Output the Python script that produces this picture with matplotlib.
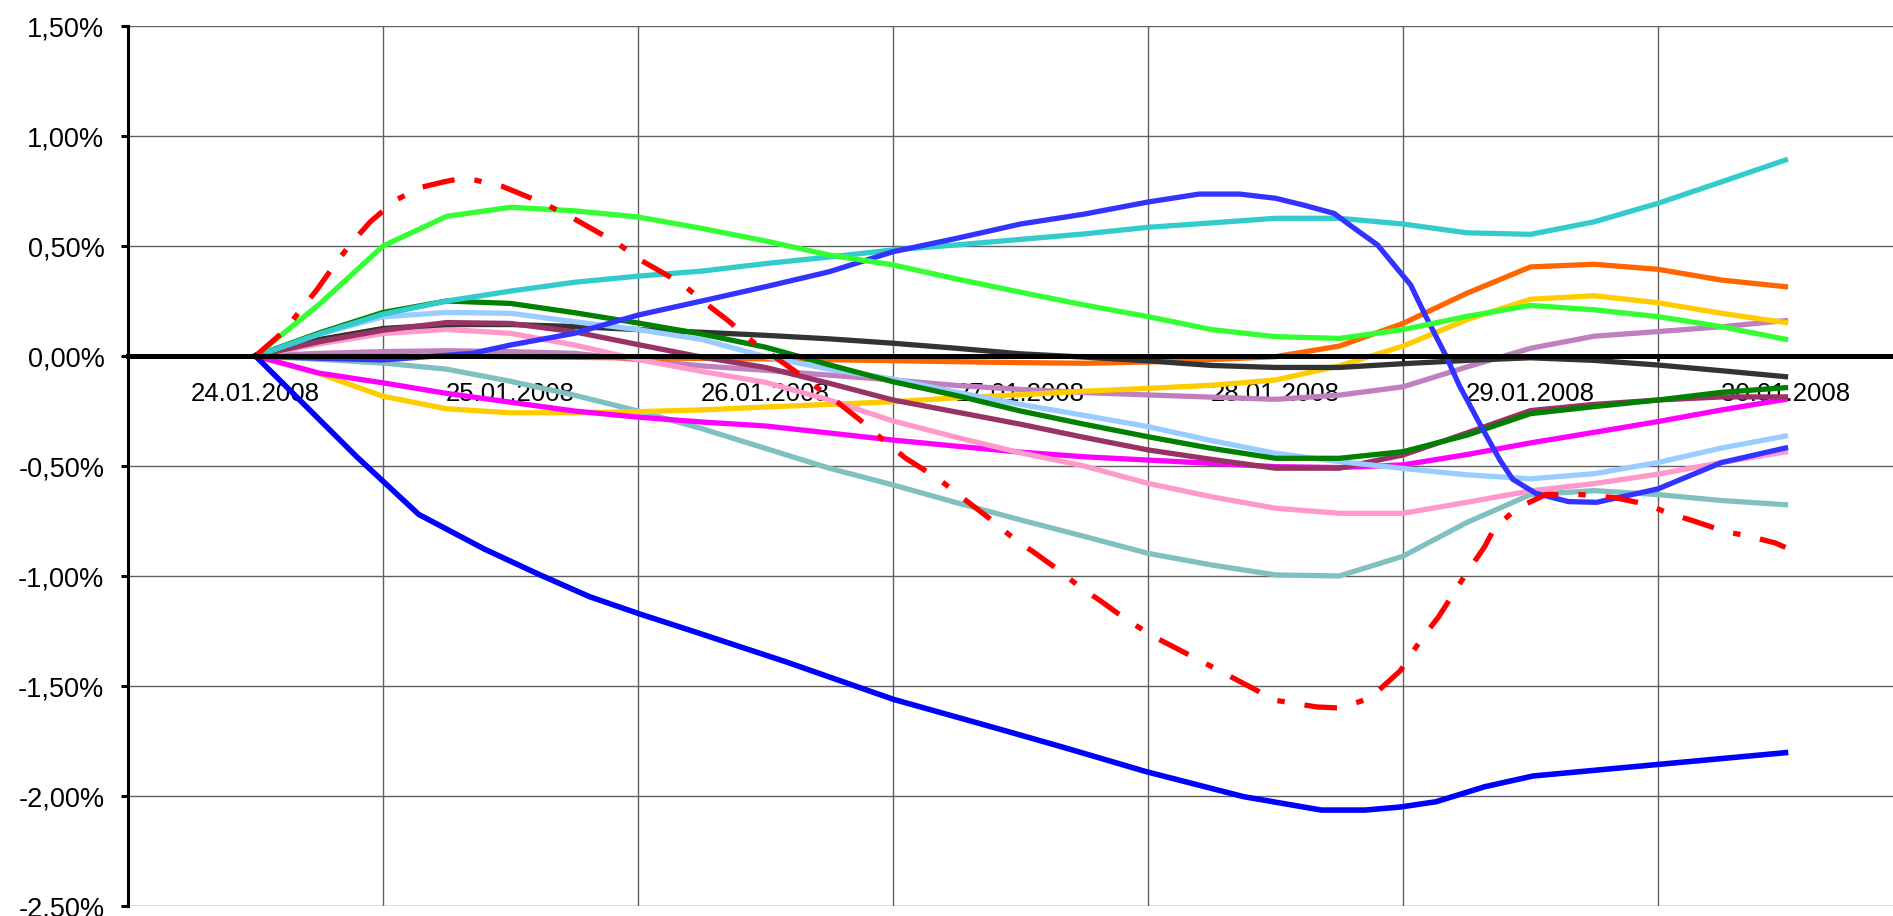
import matplotlib
matplotlib.use("Agg")
import matplotlib.pyplot as plt
from matplotlib.ticker import FixedLocator, NullFormatter

plt.rcParams['font.family'] = ['Liberation Sans', 'DejaVu Sans']

# category labels (one per day)
dates = ["24.01.2008", "25.01.2008", "26.01.2008", "27.01.2008",
         "28.01.2008", "29.01.2008", "30.01.2008"]

# common sample positions (in days from 24.01.2008)
X = [0, 0.25, 0.5, 0.75, 1, 1.25, 1.5, 1.75, 2, 2.25, 2.5, 2.75, 3,
     3.25, 3.5, 3.75, 4, 4.25, 4.5, 4.75, 5, 5.25, 5.5, 5.75, 6]

# values in %
green = [0, 0.235, 0.50, 0.635, 0.676, 0.66, 0.632, 0.58, 0.523, 0.459, 0.414, 0.35, 0.29,
         0.232, 0.179, 0.12, 0.088, 0.08, 0.12, 0.18, 0.23, 0.21, 0.179, 0.133, 0.076]
cyan = [0, 0.10, 0.19, 0.25, 0.295, 0.335, 0.363, 0.386, 0.42, 0.45, 0.482, 0.505, 0.53,
        0.555, 0.585, 0.605, 0.626, 0.626, 0.60, 0.56, 0.553, 0.61, 0.694, 0.792, 0.891]
dark_green = [0, 0.105, 0.198, 0.25, 0.239, 0.197, 0.15, 0.10, 0.04, -0.04, -0.117, -0.18, -0.25,
              -0.31, -0.367, -0.42, -0.465, -0.465, -0.435, -0.36, -0.262, -0.23, -0.20, -0.165, -0.144]
light_blue = [0, 0.10, 0.178, 0.198, 0.194, 0.156, 0.12, 0.075, -0.003, -0.06, -0.105, -0.165, -0.22,
              -0.27, -0.321, -0.385, -0.442, -0.48, -0.511, -0.54, -0.558, -0.535, -0.484, -0.418, -0.364]
dark_gray = [0, 0.075, 0.125, 0.143, 0.143, 0.134, 0.12, 0.108, 0.094, 0.078, 0.058, 0.035, 0.01,
             -0.005, -0.022, -0.043, -0.052, -0.052, -0.035, -0.02, -0.008, -0.02, -0.041, -0.067, -0.094]
maroon = [0, 0.065, 0.117, 0.152, 0.148, 0.11, 0.052, -0.005, -0.052, -0.124, -0.20, -0.255, -0.31,
          -0.37, -0.427, -0.47, -0.51, -0.51, -0.45, -0.35, -0.248, -0.22, -0.20, -0.186, -0.186]
pink = [0, 0.055, 0.102, 0.121, 0.103, 0.05, -0.016, -0.07, -0.12, -0.20, -0.295, -0.37, -0.44,
        -0.50, -0.579, -0.64, -0.692, -0.715, -0.715, -0.665, -0.613, -0.58, -0.537, -0.484, -0.436]
lavender = [0, 0.012, 0.02, 0.024, 0.02, 0.012, -0.017, -0.045, -0.065, -0.087, -0.109, -0.134, -0.152,
            -0.166, -0.177, -0.187, -0.197, -0.178, -0.14, -0.05, 0.035, 0.09, 0.111, 0.133, 0.161]
orange = [0, 0, -0.003, 0, -0.003, -0.006, -0.009, -0.011, -0.013, -0.017, -0.021, -0.026, -0.03,
          -0.033, -0.027, -0.016, -0.003, 0.045, 0.148, 0.285, 0.405, 0.417, 0.394, 0.345, 0.315]
gray_teal = [0, -0.015, -0.032, -0.06, -0.115, -0.178, -0.25, -0.33, -0.42, -0.51, -0.586, -0.667, -0.745,
             -0.82, -0.897, -0.95, -0.995, -1.0, -0.91, -0.757, -0.63, -0.612, -0.63, -0.657, -0.676]
magenta = [0, -0.078, -0.122, -0.17, -0.21, -0.25, -0.278, -0.30, -0.318, -0.35, -0.382, -0.41, -0.437,
           -0.458, -0.473, -0.488, -0.503, -0.507, -0.495, -0.448, -0.395, -0.347, -0.298, -0.245, -0.197]
gold = [0, -0.08, -0.183, -0.24, -0.258, -0.258, -0.253, -0.245, -0.232, -0.22, -0.208, -0.19, -0.176,
        -0.16, -0.147, -0.133, -0.109, -0.045, 0.045, 0.165, 0.258, 0.274, 0.242, 0.194, 0.152]

# series with their own sample positions
blue_x = [0, 0.397, 0.64, 0.90, 1.116, 1.31, 1.508, 1.70, 2.08, 2.5, 2.93, 3.16, 3.495, 3.875,
          4.18, 4.35, 4.49, 4.63, 4.82, 5.01, 6.0]
blue = [0, -0.458, -0.72, -0.879, -0.995, -1.094, -1.173, -1.245, -1.39, -1.56, -1.70, -1.776,
        -1.89, -2.003, -2.064, -2.064, -2.05, -2.026, -1.958, -1.909, -1.803]
red_x = [0, 0.11, 0.24, 0.31, 0.37, 0.45, 0.55, 0.65, 0.74, 0.81, 0.86, 0.97, 1.13, 1.24, 1.42,
         1.51, 1.67, 1.79, 1.85, 1.95, 2.11, 2.16, 2.28, 2.37, 2.47, 2.55, 2.68, 2.79, 2.88, 2.98,
         3.05, 3.14, 3.24, 3.31, 3.39, 3.51, 3.73, 4.0, 4.16, 4.25, 4.37, 4.49, 4.57, 4.64, 4.74,
         4.82, 4.86, 4.95, 5.06, 5.2, 5.33, 5.46, 5.53, 5.64, 5.77, 5.85, 5.96, 6.0]
red = [0, 0.111, 0.30, 0.414, 0.505, 0.61, 0.709, 0.767, 0.792, 0.808, 0.80, 0.77, 0.694, 0.63, 0.512,
       0.436, 0.33, 0.217, 0.164, 0.065, -0.064, -0.109, -0.208, -0.29, -0.39, -0.465, -0.56, -0.66,
       -0.74, -0.836, -0.89, -0.965, -1.056, -1.11, -1.177, -1.268, -1.40, -1.565, -1.595, -1.60,
       -1.556, -1.43, -1.29, -1.185, -1.003, -0.867, -0.78, -0.69, -0.63, -0.63, -0.644, -0.675,
       -0.71, -0.75, -0.80, -0.817, -0.85, -0.87]
bluehatch_x = [0, 0.25, 0.5, 0.85, 1.0, 1.25, 1.5, 1.75, 2.0, 2.25, 2.5, 2.75, 3.0, 3.25, 3.5, 3.7,
               3.86, 4.0, 4.11, 4.23, 4.3, 4.4, 4.46, 4.53, 4.59, 4.67, 4.72, 4.8, 4.88, 4.93, 5.02,
               5.15, 5.26, 5.5, 5.75, 6.0]
bluehatch = [0, -0.01, -0.018, 0.012, 0.05, 0.103, 0.186, 0.25, 0.315, 0.383, 0.474, 0.535, 0.60,
             0.645, 0.70, 0.736, 0.736, 0.717, 0.686, 0.648, 0.588, 0.505, 0.421, 0.323, 0.179,
             -0.003, -0.132, -0.306, -0.473, -0.56, -0.624, -0.662, -0.665, -0.604, -0.484, -0.418]

y_ticks = [-2.5, -2.0, -1.5, -1.0, -0.5, 0.0, 0.5, 1.0, 1.5]
y_tick_labels = ["-2,50%", "-2,00%", "-1,50%", "-1,00%", "-0,50%", "0,00%", "0,50%", "1,00%", "1,50%"]

fig = plt.figure(figsize=(18.93, 9.16), dpi=100)
ax = fig.add_axes([128 / 1893, 10 / 916, (1913 - 128) / 1893, 880 / 916])

lw = 3.8
ax.plot(X, lavender, color='#C080C0', lw=lw, zorder=3)
ax.plot(X, orange, color='#FF6600', lw=lw, zorder=3)
ax.plot(X, gray_teal, color='#80C0C0', lw=lw, zorder=3)
ax.plot(X, gold, color='#FFCC00', lw=lw, zorder=3)
ax.plot(X, magenta, color='#FF00FF', lw=lw, zorder=3)
ax.plot(X, pink, color='#FF99CC', lw=lw, zorder=3)
ax.plot(X, dark_gray, color='#333333', lw=lw, zorder=3)
ax.plot(X, maroon, color='#993366', lw=lw, zorder=3)
ax.plot(X, light_blue, color='#99CCFF', lw=lw, zorder=3)
ax.plot(X, dark_green, color='#008000', lw=lw, zorder=3)
ax.plot(X, cyan, color='#33CCCC', lw=lw, zorder=3)
ax.plot(bluehatch_x, bluehatch, color='#3333FF', lw=lw, zorder=3)
ax.plot(X, green, color='#33FF33', lw=lw, zorder=3)
ax.plot(red_x, red, color='#FF0000', lw=lw, zorder=3, dashes=(6.2, 3.8, 1.4, 3.8))
ax.plot(blue_x, blue, color='#0000FF', lw=4.0, zorder=3)

ax.set_xlim(-0.5, 6.5)
ax.set_ylim(-2.5, 1.5)

# axes styling
for s in ['top', 'right']:
    ax.spines[s].set_visible(False)
ax.spines['left'].set_linewidth(2.2)
ax.spines['left'].set_color('black')
ax.spines['bottom'].set_position(('data', 0))
ax.spines['bottom'].set_linewidth(3.6)
ax.spines['bottom'].set_color('black')
ax.spines['bottom'].set_zorder(4)

ax.xaxis.set_major_locator(FixedLocator(list(range(len(dates)))))
ax.set_xticklabels(dates)
ax.xaxis.set_minor_locator(FixedLocator([i - 0.5 for i in range(len(dates) + 1)]))
ax.xaxis.set_minor_formatter(NullFormatter())
ax.tick_params(axis='x', which='major', length=0, pad=19, labelsize=18.5, labelcolor='black')
ax.tick_params(axis='x', which='minor', direction='out', length=3.5, width=2, color='black')

ax.set_yticks(y_ticks)
ax.set_yticklabels(y_tick_labels)
ax.tick_params(axis='y', which='major', direction='out', length=5, width=2.2, color='black',
               pad=12, labelsize=19.5, labelcolor='black')

ax.grid(True, axis='y', which='major', color='#606060', lw=1.0, zorder=0)
ax.grid(True, axis='x', which='minor', color='#606060', lw=1.0, zorder=0)
ax.set_axisbelow(True)

fig.savefig('out.png', dpi=100)
